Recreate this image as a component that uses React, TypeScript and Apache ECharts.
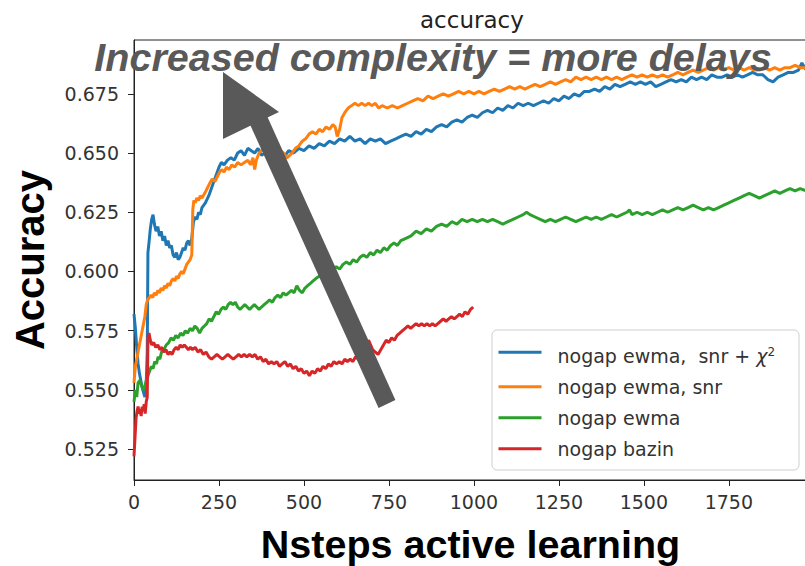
import React, { useEffect, useRef } from "react";
import * as echarts from "echarts";

// Axis ticks
const xTicks = [0, 250, 500, 750, 1000, 1250, 1500, 1750];
const yTicks = [0.525, 0.55, 0.575, 0.6, 0.625, 0.65, 0.675];

// [active learning step, accuracy]
const ewmaSnrChi2: [number, number][] = [
  [0, 0.582], [4, 0.576], [8, 0.568], [12, 0.561], [16, 0.557], [20, 0.554], [24, 0.551], [28, 0.549],
  [32, 0.547], [36, 0.553], [39, 0.566], [41, 0.608], [44, 0.612], [48, 0.618], [52, 0.622], [56, 0.624],
  [60, 0.62], [65, 0.617], [70, 0.619], [75, 0.615], [80, 0.617], [85, 0.613], [90, 0.615], [95, 0.611],
  [100, 0.613], [105, 0.61], [110, 0.611], [115, 0.607], [120, 0.606], [125, 0.608], [130, 0.605], [135, 0.606],
  [140, 0.608], [145, 0.61], [150, 0.609], [155, 0.612], [160, 0.613], [165, 0.611], [170, 0.614], [175, 0.621],
  [180, 0.623], [185, 0.622], [190, 0.625], [195, 0.624], [200, 0.627], [210, 0.629], [220, 0.632], [230, 0.636],
  [240, 0.64], [250, 0.644], [257, 0.646], [265, 0.645], [275, 0.647], [285, 0.648], [295, 0.647], [305, 0.65],
  [315, 0.651], [325, 0.649], [335, 0.652], [345, 0.651], [355, 0.65], [365, 0.652], [375, 0.649], [385, 0.65],
  [395, 0.648], [405, 0.65], [415, 0.649], [425, 0.65], [440, 0.648], [455, 0.651], [470, 0.65], [485, 0.652],
  [500, 0.651], [515, 0.653], [530, 0.652], [545, 0.654], [560, 0.653], [575, 0.655], [590, 0.654], [605, 0.656],
  [620, 0.655], [635, 0.657], [650, 0.655], [665, 0.656], [680, 0.654], [695, 0.656], [710, 0.655], [725, 0.656],
  [740, 0.654], [755, 0.655], [770, 0.656], [785, 0.657], [800, 0.658], [815, 0.657], [830, 0.659], [845, 0.658],
  [860, 0.66], [875, 0.659], [890, 0.661], [905, 0.662], [920, 0.661], [935, 0.663], [950, 0.664], [965, 0.663],
  [980, 0.665], [995, 0.666], [1010, 0.665], [1025, 0.667], [1040, 0.668], [1055, 0.667], [1070, 0.669], [1085, 0.668],
  [1100, 0.67], [1115, 0.669], [1130, 0.671], [1145, 0.67], [1160, 0.671], [1175, 0.67], [1190, 0.671], [1205, 0.672],
  [1220, 0.671], [1235, 0.673], [1250, 0.672], [1265, 0.674], [1280, 0.673], [1295, 0.675], [1310, 0.674], [1325, 0.676],
  [1340, 0.676], [1355, 0.677], [1370, 0.676], [1385, 0.678], [1400, 0.677], [1415, 0.679], [1430, 0.678], [1445, 0.679],
  [1460, 0.68], [1475, 0.679], [1490, 0.68], [1505, 0.679], [1520, 0.68], [1535, 0.678], [1550, 0.679], [1565, 0.68],
  [1580, 0.681], [1595, 0.68], [1610, 0.681], [1625, 0.68], [1640, 0.682], [1655, 0.681], [1670, 0.682], [1685, 0.681],
  [1700, 0.683], [1715, 0.682], [1730, 0.682], [1745, 0.683], [1760, 0.682], [1775, 0.683], [1790, 0.682], [1805, 0.683],
  [1820, 0.684], [1835, 0.683], [1850, 0.683], [1865, 0.681], [1880, 0.68], [1895, 0.682], [1910, 0.683], [1925, 0.684],
  [1940, 0.684], [1955, 0.685], [1965, 0.688], [1978, 0.685],
];

const ewmaSnr: [number, number][] = [
  [0, 0.553], [4, 0.56], [8, 0.563], [12, 0.566], [16, 0.569], [20, 0.572], [24, 0.575], [28, 0.578],
  [32, 0.581], [36, 0.586], [40, 0.588], [45, 0.589], [50, 0.59], [55, 0.589], [60, 0.591], [65, 0.59],
  [70, 0.592], [75, 0.591], [80, 0.593], [85, 0.592], [90, 0.594], [95, 0.593], [100, 0.595], [105, 0.594],
  [110, 0.596], [115, 0.597], [120, 0.596], [125, 0.598], [130, 0.597], [135, 0.599], [140, 0.6], [145, 0.599],
  [150, 0.601], [155, 0.603], [160, 0.604], [165, 0.605], [170, 0.607], [173, 0.626], [176, 0.63], [180, 0.629],
  [185, 0.631], [190, 0.63], [195, 0.632], [200, 0.631], [208, 0.633], [215, 0.635], [222, 0.637], [230, 0.639],
  [238, 0.638], [245, 0.64], [252, 0.642], [258, 0.643], [265, 0.642], [272, 0.644], [280, 0.643], [288, 0.645],
  [296, 0.644], [305, 0.646], [315, 0.645], [325, 0.646], [335, 0.647], [343, 0.645], [350, 0.648], [355, 0.643],
  [360, 0.647], [368, 0.65], [375, 0.651], [385, 0.653], [395, 0.655], [403, 0.657], [410, 0.655], [420, 0.653],
  [430, 0.651], [440, 0.65], [450, 0.648], [458, 0.649], [465, 0.65], [475, 0.652], [485, 0.653], [495, 0.655],
  [505, 0.656], [515, 0.658], [525, 0.659], [535, 0.658], [545, 0.66], [555, 0.659], [565, 0.661], [575, 0.66],
  [585, 0.662], [592, 0.661], [598, 0.657], [605, 0.66], [612, 0.665], [620, 0.667], [630, 0.669], [640, 0.67],
  [650, 0.671], [660, 0.67], [670, 0.671], [680, 0.67], [690, 0.671], [700, 0.67], [710, 0.671], [720, 0.669],
  [730, 0.67], [745, 0.669], [760, 0.67], [775, 0.669], [790, 0.67], [805, 0.671], [820, 0.672], [835, 0.673],
  [850, 0.672], [865, 0.674], [880, 0.673], [895, 0.674], [910, 0.675], [925, 0.674], [940, 0.675], [955, 0.676],
  [970, 0.675], [985, 0.676], [1000, 0.675], [1015, 0.676], [1030, 0.675], [1045, 0.676], [1060, 0.677], [1075, 0.676],
  [1090, 0.677], [1105, 0.678], [1120, 0.677], [1135, 0.678], [1150, 0.677], [1165, 0.678], [1180, 0.679], [1195, 0.678],
  [1210, 0.679], [1225, 0.68], [1240, 0.679], [1255, 0.68], [1270, 0.681], [1285, 0.68], [1300, 0.682], [1315, 0.681],
  [1330, 0.682], [1345, 0.681], [1360, 0.682], [1375, 0.681], [1390, 0.682], [1405, 0.681], [1420, 0.682], [1435, 0.681],
  [1450, 0.682], [1465, 0.683], [1480, 0.682], [1495, 0.683], [1510, 0.682], [1525, 0.683], [1540, 0.682], [1555, 0.683],
  [1570, 0.682], [1585, 0.683], [1600, 0.684], [1615, 0.683], [1630, 0.684], [1645, 0.685], [1660, 0.684], [1675, 0.685],
  [1690, 0.686], [1705, 0.685], [1720, 0.686], [1735, 0.685], [1750, 0.686], [1765, 0.685], [1780, 0.686], [1795, 0.685],
  [1810, 0.686], [1825, 0.685], [1840, 0.685], [1855, 0.686], [1870, 0.685], [1885, 0.686], [1900, 0.685], [1915, 0.686],
  [1930, 0.686], [1945, 0.687], [1960, 0.686], [1978, 0.686],
];

const ewma: [number, number][] = [
  [0, 0.545], [4, 0.55], [8, 0.547], [12, 0.553], [17, 0.554], [22, 0.552], [27, 0.55], [31, 0.551],
  [36, 0.554], [41, 0.556], [46, 0.558], [51, 0.56], [56, 0.559], [61, 0.562], [66, 0.561], [71, 0.564],
  [76, 0.563], [81, 0.566], [88, 0.567], [95, 0.569], [102, 0.57], [109, 0.572], [116, 0.571], [123, 0.573],
  [130, 0.572], [137, 0.574], [144, 0.573], [151, 0.575], [158, 0.574], [165, 0.576], [172, 0.575], [179, 0.577],
  [186, 0.576], [193, 0.574], [200, 0.576], [207, 0.577], [214, 0.578], [221, 0.58], [228, 0.579], [235, 0.581],
  [242, 0.583], [249, 0.582], [256, 0.584], [263, 0.585], [270, 0.584], [277, 0.586], [284, 0.587], [291, 0.586],
  [298, 0.587], [305, 0.585], [312, 0.584], [319, 0.585], [326, 0.586], [333, 0.585], [340, 0.584], [347, 0.585],
  [354, 0.586], [361, 0.585], [368, 0.584], [375, 0.585], [383, 0.586], [391, 0.587], [399, 0.588], [407, 0.587],
  [415, 0.589], [423, 0.59], [431, 0.589], [439, 0.591], [447, 0.59], [455, 0.591], [463, 0.592], [471, 0.591],
  [479, 0.594], [487, 0.592], [495, 0.591], [503, 0.593], [511, 0.594], [519, 0.595], [527, 0.596], [535, 0.597],
  [545, 0.598], [555, 0.599], [565, 0.6], [575, 0.599], [585, 0.601], [595, 0.602], [605, 0.601], [615, 0.603],
  [625, 0.604], [635, 0.603], [645, 0.605], [655, 0.604], [665, 0.606], [675, 0.607], [685, 0.606], [695, 0.608],
  [705, 0.607], [715, 0.609], [725, 0.608], [735, 0.61], [745, 0.609], [755, 0.611], [765, 0.612], [775, 0.611],
  [785, 0.613], [800, 0.614], [815, 0.615], [830, 0.617], [845, 0.616], [860, 0.618], [875, 0.617], [890, 0.619],
  [905, 0.62], [920, 0.619], [935, 0.621], [950, 0.62], [965, 0.622], [980, 0.621], [995, 0.622], [1010, 0.621],
  [1025, 0.622], [1040, 0.621], [1055, 0.622], [1070, 0.621], [1085, 0.62], [1100, 0.621], [1115, 0.622], [1130, 0.623],
  [1145, 0.624], [1155, 0.625], [1165, 0.624], [1180, 0.623], [1195, 0.622], [1210, 0.621], [1225, 0.622], [1240, 0.621],
  [1255, 0.622], [1270, 0.623], [1285, 0.622], [1300, 0.621], [1315, 0.622], [1330, 0.623], [1345, 0.622], [1360, 0.623],
  [1375, 0.622], [1390, 0.623], [1405, 0.624], [1420, 0.623], [1435, 0.624], [1450, 0.625], [1458, 0.626], [1465, 0.624],
  [1480, 0.625], [1495, 0.624], [1510, 0.625], [1525, 0.624], [1540, 0.625], [1555, 0.626], [1570, 0.625], [1585, 0.626],
  [1600, 0.627], [1615, 0.626], [1630, 0.627], [1645, 0.628], [1660, 0.627], [1675, 0.626], [1690, 0.627], [1705, 0.626],
  [1720, 0.627], [1735, 0.628], [1750, 0.629], [1765, 0.63], [1780, 0.631], [1795, 0.632], [1810, 0.633], [1825, 0.632],
  [1840, 0.631], [1855, 0.632], [1870, 0.633], [1885, 0.634], [1900, 0.633], [1915, 0.634], [1930, 0.635], [1945, 0.634],
  [1960, 0.635], [1978, 0.634],
];

const bazin: [number, number][] = [
  [0, 0.522], [3, 0.53], [6, 0.538], [9, 0.541], [12, 0.543], [15, 0.54], [18, 0.542], [21, 0.539],
  [24, 0.543], [27, 0.541], [30, 0.544], [33, 0.54], [36, 0.545], [39, 0.547], [41, 0.572], [44, 0.574],
  [48, 0.571], [52, 0.569], [58, 0.57], [64, 0.568], [70, 0.569], [76, 0.567], [82, 0.568], [88, 0.566],
  [94, 0.567], [100, 0.565], [106, 0.566], [112, 0.565], [118, 0.567], [124, 0.568], [130, 0.567], [136, 0.569],
  [142, 0.568], [148, 0.569], [154, 0.568], [160, 0.567], [166, 0.568], [172, 0.567], [180, 0.568], [188, 0.566],
  [196, 0.567], [204, 0.565], [212, 0.566], [220, 0.564], [228, 0.563], [236, 0.564], [244, 0.565], [252, 0.564],
  [260, 0.563], [268, 0.564], [276, 0.565], [284, 0.564], [292, 0.563], [300, 0.564], [308, 0.565], [316, 0.564],
  [324, 0.565], [332, 0.564], [340, 0.565], [348, 0.564], [356, 0.565], [364, 0.563], [372, 0.564], [380, 0.562],
  [388, 0.563], [396, 0.561], [404, 0.562], [412, 0.561], [420, 0.562], [428, 0.56], [436, 0.561], [444, 0.562],
  [452, 0.56], [460, 0.561], [468, 0.559], [476, 0.56], [484, 0.558], [492, 0.559], [500, 0.557], [508, 0.558],
  [516, 0.556], [524, 0.558], [532, 0.557], [540, 0.559], [548, 0.558], [556, 0.56], [564, 0.559], [572, 0.561],
  [580, 0.56], [588, 0.562], [596, 0.561], [604, 0.562], [612, 0.561], [620, 0.563], [628, 0.562], [636, 0.563],
  [644, 0.562], [652, 0.564], [660, 0.563], [668, 0.564], [676, 0.565], [684, 0.566], [690, 0.571], [696, 0.569],
  [702, 0.567], [710, 0.566], [718, 0.565], [726, 0.567], [734, 0.569], [742, 0.571], [750, 0.57], [758, 0.572],
  [766, 0.571], [774, 0.573], [782, 0.574], [790, 0.575], [798, 0.576], [806, 0.577], [814, 0.576], [822, 0.577],
  [830, 0.578], [838, 0.577], [846, 0.578], [854, 0.577], [862, 0.578], [870, 0.577], [878, 0.578], [886, 0.577],
  [894, 0.578], [902, 0.579], [910, 0.58], [918, 0.579], [926, 0.58], [934, 0.581], [942, 0.58], [950, 0.581],
  [958, 0.582], [966, 0.581], [974, 0.583], [982, 0.582], [990, 0.584], [998, 0.585],
];

const seriesNames = ["nogap ewma,  snr + χ²", "nogap ewma, snr", "nogap ewma", "nogap bazin"];
const seriesColors = ["#1f77b4", "#ff7f0e", "#2ca02c", "#d62728"];
const seriesData = [ewmaSnrChi2, ewmaSnr, ewma, bazin];

const TICK_FONT = "DejaVu Sans";
const BOLD_FONT = "Liberation Sans";
const ANNOT = "#595959";

export default function App() {
  const ref = useRef<HTMLDivElement>(null);

  useEffect(() => {
    if (!ref.current) return;
    const chart = echarts.init(ref.current, null, { renderer: "svg" });

    chart.setOption({
      animation: false,
      backgroundColor: "#ffffff",
      title: {
        text: "accuracy",
        left: 420,
        top: 8,
        padding: 0,
        textStyle: { fontFamily: TICK_FONT, fontSize: 23, fontWeight: "normal", color: "#222" },
      },
      grid: {
        left: 134,
        top: 40,
        width: 673,
        height: 440,
        outerBoundsMode: "none",
        containLabel: false,
        show: true,
        borderColor: "#222",
        borderWidth: 1,
        backgroundColor: "transparent",
      },
      legend: {
        orient: "vertical",
        left: 492,
        top: 330,
        padding: [15, 5, 13, 5],
        itemGap: 12,
        itemWidth: 43,
        itemHeight: 18,
        selectedMode: false,
        data: seriesNames,
        itemStyle: { opacity: 0 },
        lineStyle: { width: 3 },
        formatter: (name: string) =>
          name === seriesNames[0]
            ? "{n|nogap ewma,  snr + }{chi|χ}{sup|2}"
            : "{m|" + name + "}",
        textStyle: {
          padding: [0, 0, 0, 11],
          color: "#333",
          fontFamily: TICK_FONT,
          fontSize: 19,
          rich: {
            n: { fontFamily: TICK_FONT, fontSize: 19, lineHeight: 18, verticalAlign: "bottom", color: "#333" },
            chi: { fontFamily: TICK_FONT, fontSize: 19, fontStyle: "italic", lineHeight: 18, verticalAlign: "bottom", color: "#333" },
            sup: { fontFamily: TICK_FONT, fontSize: 12, lineHeight: 26, verticalAlign: "middle", color: "#333" },
            m: { fontFamily: TICK_FONT, fontSize: 19, lineHeight: 18, color: "#333" },
          },
        },
        z: 6,
      },
      xAxis: {
        type: "value",
        min: 0,
        max: 1980,
        interval: 250,
        name: "Nsteps active learning",
        nameLocation: "middle",
        nameGap: 44,
        nameTextStyle: { fontFamily: BOLD_FONT, fontSize: 39.5, fontWeight: "bold", color: "#000" },
        axisLine: { show: true, onZero: false, lineStyle: { color: "#222", width: 1 } },
        axisTick: { show: true, length: 6, customValues: xTicks, lineStyle: { color: "#222" } },
        axisLabel: {
          customValues: xTicks,
          margin: 12,
          fontFamily: TICK_FONT,
          fontSize: 19,
          color: "#333",
          formatter: (v: number) => String(v),
        },
        splitLine: { show: false },
      },
      yAxis: {
        type: "value",
        min: 0.512,
        max: 0.6977,
        name: "Accuracy",
        nameLocation: "middle",
        nameGap: 84,
        nameTextStyle: { fontFamily: BOLD_FONT, fontSize: 40, fontWeight: "bold", color: "#000" },
        axisLine: { show: true, onZero: false, lineStyle: { color: "#222", width: 1 } },
        axisTick: { show: true, length: 6, customValues: yTicks, lineStyle: { color: "#222" } },
        axisLabel: {
          customValues: yTicks,
          margin: 15,
          fontFamily: TICK_FONT,
          fontSize: 19,
          color: "#333",
          formatter: (v: number) => v.toFixed(3),
        },
        splitLine: { show: false },
      },
      series: seriesData.map((data, i) => ({
        name: seriesNames[i],
        type: "line",
        data,
        symbol: "none",
        showSymbol: false,
        color: seriesColors[i],
        lineStyle: { color: seriesColors[i], width: 3 },
        z: 2 + i * 0.01,
      })),
      graphic: [
        {
          type: "rect",
          shape: { x: 492, y: 330, width: 307, height: 140, r: 5 },
          style: { fill: "rgba(255,255,255,0.8)", stroke: "#cfcfcf", lineWidth: 1 },
          z: 5,
          silent: true,
        },
        {
          type: "polygon",
          shape: {
            points: [
              [244.4, 112.1],
              [261.6, 103.9],
              [395.4, 399.9],
              [378.6, 408.1],
            ],
          },
          style: { fill: ANNOT },
          z: 8,
          silent: true,
        },
        {
          type: "polygon",
          shape: { points: [[223, 72], [223, 139], [279, 112]] },
          style: { fill: ANNOT },
          z: 8,
          silent: true,
        },
        {
          type: "text",
          x: 433,
          y: 57,
          style: {
            text: "Increased complexity = more delays",
            fill: ANNOT,
            font: 'italic bold 39.5px "Liberation Sans"',
            textAlign: "center",
            textVerticalAlign: "middle",
          },
          z: 9,
          silent: true,
        },
      ],
    });

    return () => chart.dispose();
  }, []);

  return (
    <div
      ref={ref}
      style={{ position: "fixed", left: 0, top: 0, width: 805, height: 566, background: "#fff" }}
    />
  );
}
